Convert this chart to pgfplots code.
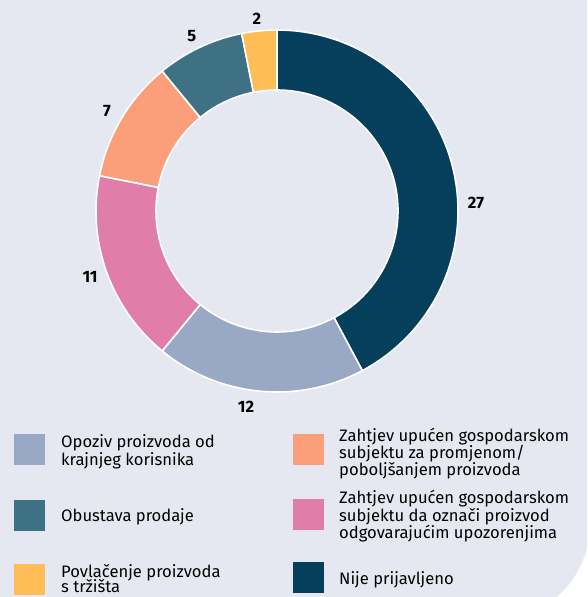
\documentclass[border=0pt]{standalone}
\usepackage{pgfplots}
\usepackage{pgfplotstable}
\pgfplotsset{compat=1.18}
\usepackage{fontspec}
\setmainfont{Fira Sans}
\definecolor{bg}{HTML}{E5E8F0}
\definecolor{cNavy}{HTML}{053F5C}
\definecolor{cBlue}{HTML}{99A8C4}
\definecolor{cPink}{HTML}{E07DA8}
\definecolor{cOrange}{HTML}{FA9F79}
\definecolor{cTeal}{HTML}{3F7185}
\definecolor{cYellow}{HTML}{FEBE55}

% value, colour, label angle (deg), label radius (outer radius = 1)
\pgfplotstableread{
value col labang labr
27 cNavy 2.3 1.10
12 cBlue -99.0 1.095
11 cPink 199.4 1.095
7 cOrange 149.5 1.09
5 cTeal 116.0 1.075
2 cYellow 96.0 1.065
}\piedata

\newcommand{\legline}[3]{\node[anchor=base west, inner sep=0pt, font=\fontsize{16.6}{18}\selectfont] at (#1pt,-#2pt) {#3};}

\begin{document}
\begin{tikzpicture}
\fill[bg] (0,0) rectangle (587pt,-597pt);
\fill[white] (557pt,-597pt) .. controls (571pt,-585pt) and (581pt,-569pt) .. (587pt,-549pt) -- (587pt,-597pt) -- cycle;
\useasboundingbox (0,0) rectangle (587pt,-597pt);
\begin{axis}[at={(277pt,-211pt)}, anchor=center, scale only axis,
  width=362pt, height=362pt, xmin=-1, xmax=1, ymin=-1, ymax=1,
  hide axis, clip=false]
\def\total{64}
\def\cum{0}
\def\ri{0.6685}
\pgfplotsforeachungrouped \i in {0,...,5}{%
  \pgfplotstablegetelem{\i}{value}\of\piedata \let\sv\pgfplotsretval
  \pgfplotstablegetelem{\i}{col}\of\piedata \let\sc\pgfplotsretval
  \pgfplotstablegetelem{\i}{labang}\of\piedata \let\sla\pgfplotsretval
  \pgfplotstablegetelem{\i}{labr}\of\piedata \let\slr\pgfplotsretval
  \pgfmathsetmacro{\sa}{90-\cum/\total*360}
  \pgfmathsetmacro{\sb}{90-(\cum+\sv)/\total*360}
  \pgfmathsetmacro{\xa}{cos(\sa)}
  \pgfmathsetmacro{\ya}{sin(\sa)}
  \pgfmathsetmacro{\xb}{\ri*cos(\sb)}
  \pgfmathsetmacro{\yb}{\ri*sin(\sb)}
  \pgfmathsetmacro{\lx}{\slr*cos(\sla)}
  \pgfmathsetmacro{\ly}{\slr*sin(\sla)}
  \edef\temp{\noexpand\filldraw[fill=\sc, draw=white, line width=1.6pt, line join=round]
    (axis cs:\xa,\ya) arc[start angle=\sa, end angle=\sb, radius=181pt]
    -- (axis cs:\xb,\yb) arc[start angle=\sb, end angle=\sa, radius=121pt] -- cycle;
    \noexpand\node[font=\noexpand\fontsize{16.5}{18}\noexpand\selectfont\noexpand\bfseries] at (axis cs:\lx,\ly) {\sv};}
  \temp
  \pgfmathsetmacro{\cum}{\cum+\sv}
}
\end{axis}
% legend
\fill[cBlue] (14pt,-434pt) rectangle (45pt,-465pt);
\fill[cTeal] (14pt,-500pt) rectangle (45pt,-531pt);
\fill[cYellow] (14pt,-564pt) rectangle (45pt,-595pt);
\fill[cOrange] (293pt,-434pt) rectangle (324pt,-465pt);
\fill[cPink] (293pt,-499pt) rectangle (324pt,-530pt);
\fill[cNavy] (293pt,-562pt) rectangle (324pt,-593pt);
\legline{61}{447}{Opoziv proizvoda od}
\legline{61}{465}{krajnjeg korisnika}
\legline{61}{521}{Obustava prodaje}
\legline{61}{577}{Povlačenje proizvoda}
\legline{61}{592.5}{s tržišta}
\legline{339}{441}{Zahtjev upućen gospodarskom}
\legline{339}{458}{subjektu za promjenom/}
\legline{339}{475}{poboljšanjem proizvoda}
\legline{339}{503.5}{Zahtjev upućen gospodarskom}
\legline{339}{521}{subjektu da označi proizvod}
\legline{339}{538.5}{odgovarajućim upozorenjima}
\legline{339}{584}{Nije prijavljeno}
\end{tikzpicture}
\end{document}
